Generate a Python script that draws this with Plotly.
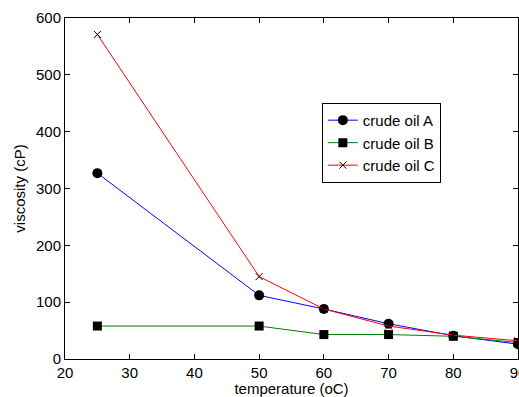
import plotly.graph_objects as go

temperature = [25, 50, 60, 70, 80, 90]
oil_a = [327, 112, 88, 62, 41, 26]
oil_b = [58, 58, 43, 43, 40, 29]
oil_c = [571, 145, 88, 58, 42, 32]

x_ticks = [20, 30, 40, 50, 60, 70, 80, 90]
y_ticks = [0, 100, 200, 300, 400, 500, 600]

FONT = "Arial, Liberation Sans, sans-serif"

fig = go.Figure()
fig.add_trace(go.Scatter(x=temperature, y=oil_a, name="crude oil A", mode="lines+markers",
                         line=dict(color="#0000ff", width=1),
                         marker=dict(symbol="circle", size=10, color="black")))
fig.add_trace(go.Scatter(x=temperature, y=oil_b, name="crude oil B", mode="lines+markers",
                         line=dict(color="#008000", width=1),
                         marker=dict(symbol="square", size=9, color="black")))
fig.add_trace(go.Scatter(x=temperature, y=oil_c, name="crude oil C", mode="lines+markers",
                         line=dict(color="#ff0000", width=1),
                         marker=dict(symbol="x-thin", size=7, color="black",
                                     line=dict(color="black", width=1))))

axis_common = dict(showgrid=False, zeroline=False, showline=True, linecolor="black",
                   linewidth=1, mirror="ticks", ticks="inside", ticklen=5,
                   tickcolor="black", automargin=False, ticklabeloverflow="allow",
                   tickfont=dict(family=FONT, size=15, color="black"))

fig.update_layout(
    template="none",
    width=519, height=397,
    margin=dict(l=65, r=1, t=18, b=38),
    paper_bgcolor="white", plot_bgcolor="white",
    font=dict(family=FONT, size=15, color="black"),
    xaxis=dict(range=[20, 90], tickvals=x_ticks,
               title=dict(text="temperature (oC)", standoff=1,
                          font=dict(family=FONT, size=15)),
               **axis_common),
    yaxis=dict(range=[0, 600], tickvals=y_ticks,
               title=dict(text="viscosity (cP)", standoff=6,
                          font=dict(family=FONT, size=15)),
               **axis_common),
    legend=dict(x=0.567, y=0.751, xanchor="left", yanchor="top",
                bordercolor="black", borderwidth=1, bgcolor="white",
                font=dict(family=FONT, size=15), tracegroupgap=0),
    showlegend=True,
)

fig.write_html("out.html", config={"displayModeBar": False},
               post_script="document.body.style.margin='0';document.body.style.overflow='hidden';")
